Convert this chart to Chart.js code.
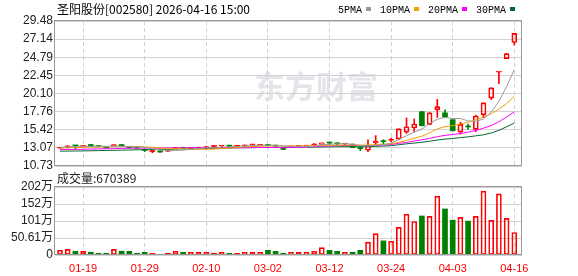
<!DOCTYPE html>
<html>
<head>
<meta charset="utf-8">
<title>圣阳股份 日K</title>
<script src="https://cdn.jsdelivr.net/npm/chart.js@4.4.1/dist/chart.umd.min.js"></script>
<style>
  body { margin: 0; background: #fff; }
  #wrap { position: relative; width: 578px; height: 276px; }
  #wrap canvas { position: absolute; left: 0; top: 0; }
</style>
</head>
<body>
<div id="wrap">
  <canvas id="kline" width="578" height="276"></canvas>
  <canvas id="volumen" width="578" height="276"></canvas>
</div>
<script>
const stockName = "圣阳股份";
const stockCode = "002580";
const quoteTime = "2026-04-16 15:00";

const dates = ["01-14","01-15","01-16","01-19","01-20","01-21","01-22","01-23","01-26","01-27",
  "01-28","01-29","01-30","02-02","02-03","02-04","02-05","02-06","02-09","02-10",
  "02-11","02-12","02-13","02-24","02-25","02-26","02-27","03-02","03-03","03-04",
  "03-05","03-06","03-09","03-10","03-11","03-12","03-13","03-16","03-17","03-18",
  "03-19","03-20","03-23","03-24","03-25","03-26","03-27","03-30","03-31","04-01",
  "04-02","04-03","04-07","04-08","04-09","04-10","04-13","04-14","04-15","04-16"];

const opens = [13.05,13.22,13.36,13.27,13.51,13.30,13.12,13.25,13.51,13.20,
  13.12,12.78,12.60,12.69,12.66,13.00,13.10,13.00,13.06,13.10,
  13.25,13.32,13.33,13.28,13.35,13.48,13.40,13.45,13.38,13.00,
  13.20,13.26,13.30,13.48,13.52,13.74,13.64,13.55,13.55,13.02,
  12.77,13.72,13.92,14.05,14.21,15.12,15.64,17.76,16.11,17.98,
  17.60,16.72,15.12,15.84,15.46,17.35,19.50,22.85,24.62,26.70];
const highs = [13.12,13.38,13.36,13.40,13.53,13.36,13.15,13.53,13.53,13.25,
  13.15,12.95,12.78,12.72,12.74,13.14,13.15,13.12,13.18,13.30,
  13.35,13.35,13.40,13.36,13.45,13.52,13.53,13.50,13.42,13.02,
  13.30,13.40,13.42,13.64,13.74,13.76,13.72,13.62,13.58,13.22,
  14.12,14.66,14.12,14.34,15.55,16.94,16.81,17.80,17.65,19.35,
  18.00,16.75,16.40,16.15,17.30,18.92,20.86,22.90,25.30,27.90];
const lows = [13.00,13.05,12.90,13.25,13.29,13.20,13.02,13.22,13.24,13.05,
  13.00,12.60,12.43,12.50,12.60,12.97,12.98,12.98,12.95,12.92,
  13.15,13.20,13.20,13.18,13.25,13.30,13.38,13.30,13.25,12.85,
  13.15,13.24,13.28,13.30,13.50,13.50,13.48,13.45,13.10,12.72,
  12.58,13.46,13.60,13.85,14.15,14.94,15.20,15.90,16.05,17.02,
  17.00,15.25,14.86,15.46,15.16,16.98,19.32,21.36,24.60,26.38];
const closes = [13.10,13.26,13.33,13.38,13.29,13.25,13.08,13.51,13.27,13.12,
  13.05,12.74,12.60,12.53,12.66,13.12,13.02,13.05,13.09,13.13,
  13.25,13.35,13.30,13.28,13.38,13.52,13.51,13.38,13.30,12.88,
  13.28,13.38,13.40,13.52,13.72,13.70,13.60,13.57,13.12,12.98,
  13.42,13.95,13.88,14.10,15.53,15.81,16.16,15.94,17.59,18.41,
  17.05,15.29,16.11,15.78,17.20,18.89,20.84,22.88,25.27,27.88];

const ma5 = [13.15,13.20,13.24,13.27,13.27,13.30,13.27,13.30,13.28,13.25,
  13.21,13.14,12.96,12.81,12.72,12.73,12.79,12.88,12.99,13.08,
  13.11,13.17,13.22,13.26,13.31,13.37,13.40,13.41,13.42,13.32,
  13.27,13.24,13.25,13.29,13.46,13.54,13.59,13.62,13.54,13.39,
  13.34,13.41,13.47,13.67,14.18,14.65,15.10,15.51,16.21,16.78,
  17.03,16.86,16.89,16.55,16.50,16.80,17.70,19.08,21.00,23.18];
const ma10 = [13.05,13.08,13.12,13.15,13.18,13.20,13.22,13.24,13.25,13.26,
  13.25,13.20,13.13,13.05,12.98,12.97,12.96,12.92,12.90,12.90,
  12.92,12.98,13.05,13.13,13.20,13.24,13.29,13.32,13.34,13.32,
  13.32,13.32,13.33,13.36,13.39,13.41,13.42,13.44,13.42,13.43,
  13.44,13.50,13.55,13.60,13.79,14.03,14.32,14.58,15.02,15.52,
  15.82,15.95,16.17,16.40,16.70,17.05,17.50,18.08,18.80,19.75];
const ma20 = [12.85,12.86,12.88,12.90,12.92,12.94,12.96,12.98,13.00,13.02,
  13.04,13.05,13.05,13.05,13.06,13.07,13.07,13.08,13.08,13.08,
  13.09,13.09,13.09,13.09,13.09,13.10,13.13,13.12,13.12,13.11,
  13.12,13.15,13.19,13.25,13.30,13.33,13.36,13.38,13.38,13.38,
  13.36,13.38,13.43,13.52,13.66,13.78,13.96,14.12,14.30,14.52,
  14.69,14.80,14.92,15.11,15.32,15.63,15.96,16.46,17.06,17.72];
const ma30 = [12.65,12.66,12.67,12.68,12.70,12.72,12.74,12.76,12.78,12.80,
  12.82,12.84,12.86,12.88,12.90,12.92,12.94,12.96,12.98,13.00,
  13.02,13.04,13.06,13.08,13.10,13.11,13.12,13.13,13.14,13.15,
  13.16,13.17,13.17,13.18,13.19,13.21,13.22,13.23,13.22,13.22,
  13.23,13.27,13.31,13.36,13.48,13.60,13.69,13.80,13.94,14.08,
  14.21,14.29,14.40,14.50,14.63,14.77,15.00,15.34,15.80,16.28];

const volumes = [141000,168000,112000,109000,82000,51000,49000,167000,113000,108000,
  52000,79000,48000,21000,50000,112000,80000,78000,81000,79000,
  52000,80000,49000,51000,78000,82000,79000,141000,108000,52000,
  79000,81000,78000,112000,221000,139000,110000,79000,82000,141000,
  382000,638000,421000,409000,822000,1213000,998000,1162000,1148000,1752000,
  1371000,1038000,1121000,1009000,1152000,1902000,1031000,1818000,1089000,670389];

const priceTicks = [10.73, 13.07, 15.42, 17.76, 20.10, 22.45, 24.79, 27.14, 29.48];
const volTicks = [0, 506100, 1012200, 1518300, 2024400];
const volTickLabels = ["0", "50.61万", "101万", "152万", "202万"];
const dateTicks = ["01-19", "01-29", "02-10", "03-02", "03-12", "03-24", "04-03", "04-16"];

const maNames = ["5PMA", "10PMA", "20PMA", "30PMA"];
const maColors = ["#9a9a9a", "#f0a000", "#ff00ff", "#006a30"];

const ROJO = "#ff0000";
const VERDE = "#008000";
const GRID = "#d2d2d2";

// tipo de vela: sube, baja o plana
function tipo(i) {
  if (closes[i] > opens[i]) return "up";
  if (closes[i] < opens[i]) return "down";
  return "flat";
}

function colorVela(i) {
  return tipo(i) === "down" ? VERDE : ROJO;
}

function relleno(i) {
  if (tipo(i) === "up") return "rgba(255,255,255,0)";
  return colorVela(i);
}

const tickIdx = dateTicks.map((d) => dates.indexOf(d));

function ponerFechas(scale) {
  scale.ticks = tickIdx.map((v) => ({ value: v }));
}

const marco = {
  id: "marco",
  afterDatasetsDraw(chart) {
    const a = chart.chartArea;
    const ctx = chart.ctx;
    ctx.save();
    ctx.strokeStyle = "#999";
    ctx.lineWidth = 1;
    ctx.strokeRect(Math.round(a.left) - 0.5, Math.round(a.top) - 0.5,
      Math.round(a.right - a.left), Math.round(a.bottom - a.top));
    ctx.restore();
  },
};

const cabecera = {
  id: "cabecera",
  beforeDraw(chart) {
    // marca de agua
    const ctx = chart.ctx;
    ctx.save();
    ctx.fillStyle = "#e4e4ea";
    ctx.font = "bold 31px 'Noto Sans CJK SC'";
    ctx.textBaseline = "middle";
    ctx.fillText("东方财富", 254, 86);
    ctx.restore();
  },
  afterDraw(chart) {
    const ctx = chart.ctx;
    ctx.save();
    ctx.textBaseline = "middle";
    ctx.fillStyle = "#000";
    ctx.font = "12px 'Noto Sans CJK SC'";
    ctx.fillText(stockName + "[" + stockCode + "] " + quoteTime, 57, 9);
    ctx.font = "10px 'Liberation Mono'";
    let x = 338;
    maNames.forEach(function (n, k) {
      ctx.fillStyle = "#000";
      ctx.fillText(n, x, 10);
      x += ctx.measureText(n).width + 4;
      ctx.fillStyle = maColors[k];
      ctx.fillRect(x, 7, 5, 4);
      x += 14;
    });
    ctx.restore();
  },
};

const etiquetaVol = {
  id: "etiquetaVol",
  afterDraw(chart) {
    const ctx = chart.ctx;
    ctx.save();
    ctx.textBaseline = "middle";
    ctx.fillStyle = "#222";
    ctx.font = "12px 'Noto Sans CJK SC'";
    ctx.fillText("成交量:" + volumes[volumes.length - 1], 57, 178);
    ctx.restore();
  },
};

function lineaMA(k, serie) {
  return {
    type: "line",
    label: maNames[k],
    data: serie.map((v, i) => ({ x: i, y: v })),
    borderColor: maColors[k],
    borderWidth: 1,
    pointRadius: 0,
    tension: 0,
  };
}

const idx = dates.map((d, i) => i);

const cuerpo = {
  type: "bar",
  label: "cuerpo",
  data: idx.map((i) => ({ x: i, y: [opens[i], closes[i]] })),
  backgroundColor: idx.map(relleno),
  borderColor: idx.map(colorVela),
  borderWidth: idx.map((i) => (tipo(i) === "up" ? 1 : 0)),
  borderSkipped: false,
  barThickness: 5,
  minBarLength: 1,
  grouped: false,
};
const mechaAlta = {
  type: "bar",
  label: "alta",
  data: idx.map((i) => ({ x: i, y: [Math.max(opens[i], closes[i]), highs[i]] })),
  backgroundColor: idx.map(colorVela),
  barThickness: 1,
  grouped: false,
};
const mechaBaja = {
  type: "bar",
  label: "baja",
  data: idx.map((i) => ({ x: i, y: [lows[i], Math.min(opens[i], closes[i])] })),
  backgroundColor: idx.map(colorVela),
  barThickness: 1,
  grouped: false,
};

const fuenteEje = { family: "'Liberation Sans', 'Noto Sans CJK SC'", size: 12 };

function ejeFechas(alto, conTexto) {
  return {
    type: "linear",
    min: -0.65,
    max: 60,
    offset: false,
    afterBuildTicks: ponerFechas,
    afterFit: (s) => { s.height = alto; },
    ticks: {
      display: conTexto,
      callback: (v) => dates[v],
      color: ROJO,
      font: { family: "'Liberation Sans'", size: 11 },
      padding: 7,
      autoSkip: false,
      maxRotation: 0,
    },
    grid: { color: GRID, drawTicks: false, offset: false },
    border: { display: false, dash: [4, 3] },
  };
}

new Chart(document.getElementById("kline"), {
  type: "bar",
  data: {
    datasets: [lineaMA(0, ma5), lineaMA(1, ma10), lineaMA(2, ma20), lineaMA(3, ma30), cuerpo, mechaAlta, mechaBaja],
  },
  options: {
    responsive: false,
    animation: false,
    devicePixelRatio: 1,
    layout: { padding: { left: 0, top: 21, right: 56, bottom: 110 } },
    plugins: { legend: { display: false }, tooltip: { enabled: false } },
    scales: {
      x: ejeFechas(0, false),
      y: {
        type: "linear",
        min: priceTicks[0],
        max: priceTicks[priceTicks.length - 1],
        afterBuildTicks: (s) => { s.ticks = priceTicks.map((v) => ({ value: v })); },
        afterFit: (s) => { s.width = 55; },
        ticks: { callback: (v) => v.toFixed(2), color: "#222", font: fuenteEje, padding: 2, autoSkip: false },
        grid: { color: GRID, drawTicks: false },
        border: { display: false },
      },
    },
  },
  plugins: [cabecera, marco],
});

new Chart(document.getElementById("volumen"), {
  type: "bar",
  data: {
    datasets: [{
      label: "成交量",
      data: idx.map((i) => ({ x: i, y: volumes[i] })),
      backgroundColor: idx.map(relleno),
      borderColor: idx.map(colorVela),
      borderWidth: idx.map((i) => (tipo(i) === "up" ? 1 : 0)),
      borderSkipped: false,
      barThickness: 5,
    }],
  },
  options: {
    responsive: false,
    animation: false,
    devicePixelRatio: 1,
    layout: { padding: { left: 0, top: 187, right: 56, bottom: 0 } },
    plugins: { legend: { display: false }, tooltip: { enabled: false } },
    scales: {
      x: ejeFechas(21, true),
      y: {
        type: "linear",
        min: 0,
        max: volTicks[volTicks.length - 1],
        afterBuildTicks: (s) => { s.ticks = volTicks.map((v) => ({ value: v })); },
        afterFit: (s) => { s.width = 55; },
        ticks: { callback: (v, n) => volTickLabels[n], color: "#222", font: fuenteEje, padding: 2, autoSkip: false },
        grid: { color: GRID, drawTicks: false },
        border: { display: false },
      },
    },
  },
  plugins: [etiquetaVol, marco],
});
</script>
</body>
</html>
